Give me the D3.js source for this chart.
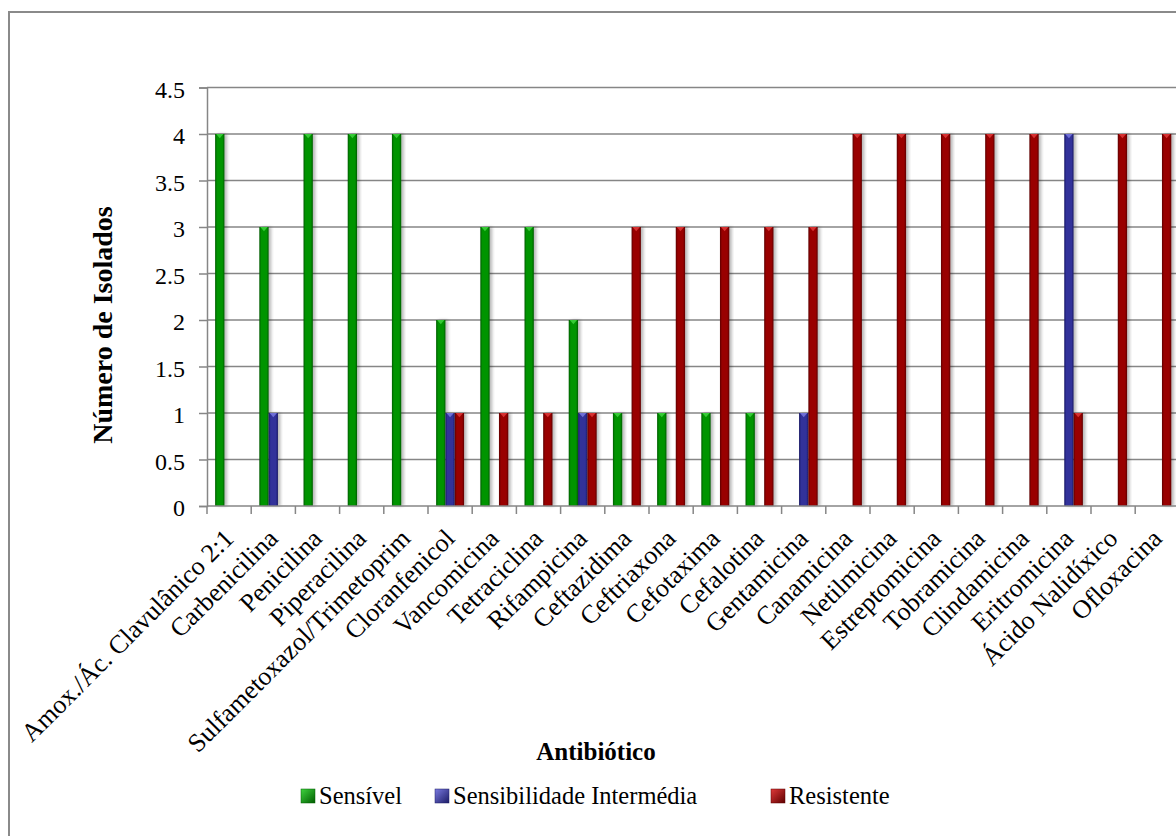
<!DOCTYPE html>
<html>
<head>
<meta charset="utf-8">
<script src="https://cdn.jsdelivr.net/npm/d3@7"></script>
<style>
  body { margin: 0; background: #fff; }
  svg { display: block; }
  text { font-family: "Liberation Serif", "Times New Roman", serif; fill: #000; }
</style>
</head>
<body>
<svg id="chart" width="1176" height="836"></svg>
<script>
// Antibiotics tested
const categories = [
  "Amox./Ác. Clavulânico 2:1", "Carbenicilina", "Penicilina", "Piperacilina",
  "Sulfametoxazol/Trimetoprim", "Cloranfenicol", "Vancomicina", "Tetraciclina",
  "Rifampicina", "Ceftazidima", "Ceftriaxona", "Cefotaxima", "Cefalotina",
  "Gentamicina", "Canamicina", "Netilmicina", "Estreptomicina", "Tobramicina",
  "Clindamicina", "Eritromicina", "Ácido Nalidíxico", "Ofloxacina"
];

// Number of isolates per susceptibility class
const sensivel   = [4, 3, 4, 4, 4, 2, 3, 3, 2, 1, 1, 1, 1, 0, 0, 0, 0, 0, 0, 0, 0, 0];
const intermedia = [0, 1, 0, 0, 0, 1, 0, 0, 1, 0, 0, 0, 0, 1, 0, 0, 0, 0, 0, 4, 0, 0];
const resistente = [0, 0, 0, 0, 0, 1, 1, 1, 1, 3, 3, 3, 3, 3, 4, 4, 4, 4, 4, 1, 4, 4];

const seriesNames = ["Sensível", "Sensibilidade Intermédia", "Resistente"];
const yTicks = [0, 0.5, 1, 1.5, 2, 2.5, 3, 3.5, 4, 4.5];

const seriesData = [sensivel, intermedia, resistente];
const colors = [
  { base: "#009400", dark: "#005c00", light: "#3fd43f" },
  { base: "#30309a", dark: "#1c1c66", light: "#7a7ae0" },
  { base: "#990000", dark: "#5e0000", light: "#e03a3a" }
];

const svg = d3.select("#chart");
const defs = svg.append("defs");

// Bevelled fill for each series
colors.forEach((c, i) => {
  const g = defs.append("linearGradient").attr("id", "bar" + i)
    .attr("x1", 0).attr("x2", 1).attr("y1", 0).attr("y2", 0);
  g.append("stop").attr("offset", "0").attr("stop-color", c.dark);
  g.append("stop").attr("offset", "0.22").attr("stop-color", c.base);
  g.append("stop").attr("offset", "0.78").attr("stop-color", c.base);
  g.append("stop").attr("offset", "1").attr("stop-color", c.dark);
  const lg = defs.append("linearGradient").attr("id", "leg" + i)
    .attr("x1", 0).attr("x2", 1).attr("y1", 0).attr("y2", 1);
  lg.append("stop").attr("offset", "0").attr("stop-color", c.light);
  lg.append("stop").attr("offset", "1").attr("stop-color", c.dark);
});

const shadow = defs.append("filter").attr("id", "shadow")
  .attr("x", "-50%").attr("y", "-5%").attr("width", "200%").attr("height", "110%");
shadow.append("feDropShadow").attr("dx", 2.5).attr("dy", 0).attr("stdDeviation", 1.5)
  .attr("flood-color", "#000").attr("flood-opacity", 0.28);

// Chart frame
svg.append("rect").attr("x", 9).attr("y", 12).attr("width", 1200).attr("height", 900)
  .attr("fill", "#fff").attr("stroke", "#8a8a8a").attr("stroke-width", 2);

const plotLeft = 207, plotBottom = 506, plotTop = 87.5, step = 44.2;
const x = d3.scaleBand().domain(categories)
  .range([plotLeft, plotLeft + step * categories.length]).padding(0);
const xSub = d3.scaleBand().domain(seriesNames)
  .range([0, x.bandwidth()]).paddingInner(0).paddingOuter(0.87);
const y = d3.scaleLinear().domain([0, 4.5]).range([plotBottom, plotTop]);

// Horizontal gridlines
svg.append("g").selectAll("line").data(yTicks.filter(d => d > 0)).join("line")
  .attr("x1", plotLeft).attr("x2", 1176)
  .attr("y1", d => y(d)).attr("y2", d => y(d))
  .attr("stroke", "#868686").attr("stroke-width", 1.5);

// Bars
seriesData.forEach((vals, si) => {
  const g = svg.append("g");
  const items = categories.map((c, i) => ({ c, v: vals[i] })).filter(d => d.v > 0);
  g.selectAll("rect").data(items).join("rect")
    .attr("x", d => x(d.c) + xSub(seriesNames[si]))
    .attr("y", d => y(d.v))
    .attr("width", xSub.bandwidth())
    .attr("height", d => y(0) - y(d.v))
    .attr("fill", `url(#bar${si})`)
    .attr("filter", "url(#shadow)");
  // small pyramid cap highlight
  g.selectAll("path").data(items).join("path")
    .attr("d", d => {
      const x0 = x(d.c) + xSub(seriesNames[si]);
      const w = xSub.bandwidth();
      const y0 = y(d.v);
      return `M${x0 + 1},${y0} L${x0 + w - 1},${y0} L${x0 + w / 2},${y0 + w * 0.45} Z`;
    })
    .attr("fill", colors[si].light).attr("opacity", 0.85);
});

// Y axis
const yAxis = d3.axisLeft(y).tickValues(yTicks).tickSize(8).tickPadding(14)
  .tickFormat(d => d3.format("~g")(d));
const yg = svg.append("g").attr("transform", `translate(${plotLeft},0)`).call(yAxis);
yg.select(".domain").attr("stroke", "#868686").attr("stroke-width", 1.5);
yg.selectAll(".tick line").attr("stroke", "#868686").attr("stroke-width", 1.5);
yg.selectAll(".tick text").attr("font-size", 24).attr("font-family", "Liberation Serif")
  .attr("fill", "#000").attr("dy", "0.4em");

// X axis line with boundary ticks
svg.append("line").attr("x1", plotLeft).attr("x2", 1176).attr("y1", plotBottom).attr("y2", plotBottom)
  .attr("stroke", "#868686").attr("stroke-width", 1.5);
svg.append("g").selectAll("line").data(categories).join("line")
  .attr("x1", d => x(d)).attr("x2", d => x(d))
  .attr("y1", plotBottom).attr("y2", plotBottom + 8)
  .attr("stroke", "#868686").attr("stroke-width", 1.5);

// Category labels
svg.append("g").selectAll("text").data(categories).join("text")
  .attr("transform", d => `translate(${x(d) + x.bandwidth() / 2 + 6},${plotBottom + 34}) rotate(-45)`)
  .attr("text-anchor", "end")
  .attr("font-size", 26)
  .text(d => d);

// Axis titles
svg.append("text")
  .attr("transform", `translate(112,325) rotate(-90)`)
  .attr("text-anchor", "middle").attr("font-size", 28).attr("font-weight", "bold")
  .text("Número de Isolados");
svg.append("text").attr("x", 596).attr("y", 760)
  .attr("text-anchor", "middle").attr("font-size", 25).attr("font-weight", "bold")
  .text("Antibiótico");

// Legend
const legendX = [301, 435, 771];
const lg = svg.append("g");
seriesNames.forEach((name, i) => {
  lg.append("rect").attr("x", legendX[i]).attr("y", 789).attr("width", 14).attr("height", 14)
    .attr("fill", `url(#leg${i})`).attr("stroke", colors[i].dark).attr("stroke-width", 0.5);
  lg.append("text").attr("x", legendX[i] + 18).attr("y", 804)
    .attr("font-size", 24.5).text(name);
});
</script>
</body>
</html>
